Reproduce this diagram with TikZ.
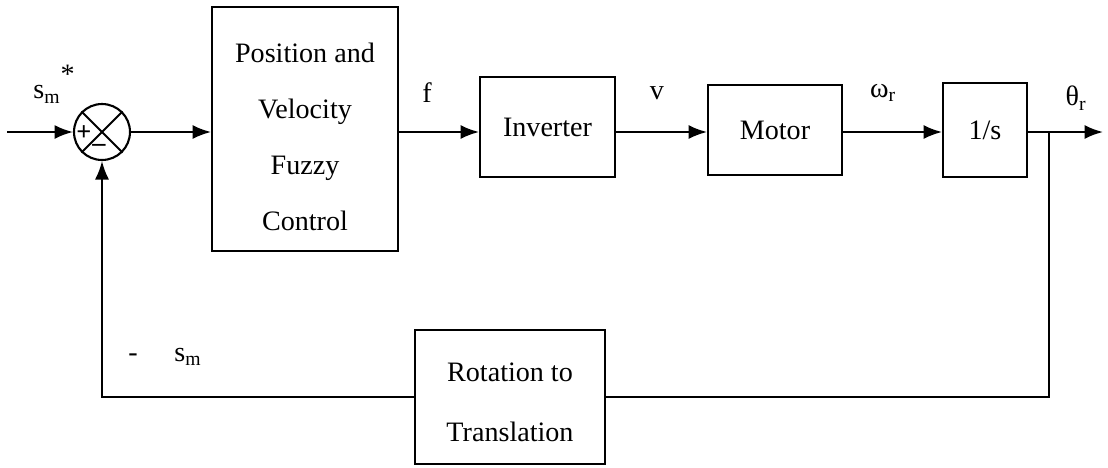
\documentclass[tikz,border=0pt]{standalone}
\usepackage{fontspec}
\setmainfont{Liberation Serif}
\usetikzlibrary{arrows.meta}

\begin{document}
\begin{tikzpicture}[x=0.02cm, y=-0.02cm,
  font=\fontsize{16}{19}\selectfont,
  block/.style={draw, line width=1.1pt, align=center, inner sep=0pt},
  sig/.style={line width=1.2pt, -{Latex[length=10.5pt,width=8pt]}},
  wire/.style={line width=1.2pt},
  pm/.style={font=\fontsize{15}{15}\selectfont\bfseries, inner sep=0pt}]

\useasboundingbox (0,0) rectangle (1108,467);

% Summing junction
\node [draw, circle, line width=1.2pt, minimum size=1.12cm, inner sep=0pt] (sum) at (102,132) {};
\draw [line width=1.2pt] (sum.north west) -- (sum.south east);
\draw [line width=1.2pt] (sum.north east) -- (sum.south west);
\node [pm] (plus) at (84,133) {+};
\node [pm] (minus) at (99,148) {--};

% Blocks of the forward path (the struts push the text a bit down)
\node [block, minimum width=3.72cm, minimum height=4.88cm, font=\fontsize{16}{32}\selectfont] (pvfc) at (305,129)
  {\rule{0pt}{20pt}Position and\\Velocity\\Fuzzy\\Control};
\node [block, minimum width=2.7cm, minimum height=2cm] (inv) at (547.5,127) {Inverter};
\node [block, minimum width=2.68cm, minimum height=1.8cm] (motor) at (775,130) {Motor};
\node [block, minimum width=1.68cm, minimum height=1.88cm] (integ) at (985,130) {1/s};

% Feedback block
\node [block, minimum width=3.8cm, minimum height=2.68cm, font=\fontsize{16}{34}\selectfont] (rot) at (510,397)
  {\rule{0pt}{17pt}Rotation to\\Translation};

\coordinate (in) at (7,132);
\coordinate (tap) at (1049,132);
\coordinate (out) at (1103,132);

% Signal labels
\node (ref) at (54,84) {s\textsubscript{m}\raisebox{9pt}{*}};
\node (flbl) at (427,93) {f};
\node (vlbl) at (657,93) {v};
\node (wlbl) at (883,93) {ω\textsubscript{r}};
\node (thlbl) at (1076,98) {θ\textsubscript{r}};
\node (fblbl) at (165,357) {-\hspace{1.3em}s\textsubscript{m}};

% Forward path
\draw [sig] (in) -- (sum.west);
\draw [sig] (sum.east) -- (pvfc.west |- sum);
\draw [sig] (pvfc.east |- sum) -- (inv.west |- sum);
\draw [sig] (inv.east |- sum) -- (motor.west |- sum);
\draw [sig] (motor.east |- sum) -- (integ.west |- sum);
\draw [sig] (integ.east |- sum) -- (out);

% Feedback path
\draw [wire] (tap) |- (rot.east);
\draw [sig] (rot.west) -| (sum.south);

\end{tikzpicture}
\end{document}
